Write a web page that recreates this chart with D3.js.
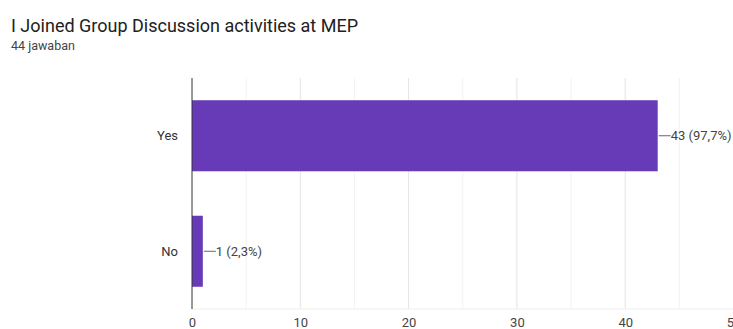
<!DOCTYPE html>
<html>
<head>
<meta charset="utf-8">
<script src="https://cdn.jsdelivr.net/npm/d3@7"></script>
<style>
body{margin:0;background:#fff;font-family:Roboto,Arial,sans-serif;}
</style>
</head>
<body>
<div id="chart"></div>
<script>
// data
const categories = ["Yes", "No"];
const counts = [43, 1];
const percents = ["97,7%", "2,3%"];
const xTicks = [0, 10, 20, 30, 40, 50];
const title = "I Joined Group Discussion activities at MEP";
const subtitle = "44 jawaban";

const w = 733, h = 329;
const plotLeft = 192, plotRight = 192 + 50 * 10.83, plotTop = 78, plotBottom = 309;

const svg = d3.select("#chart").append("svg")
  .attr("width", w).attr("height", h);

svg.append("text").attr("x", 11).attr("y", 32)
  .style("font-size", "18px").attr("fill", "#212121").text(title);
svg.append("text").attr("x", 11).attr("y", 50)
  .style("font-size", "12.5px").attr("fill", "#444").text(subtitle);

const x = d3.scaleLinear().domain([0, 50]).range([plotLeft, plotRight]);
const y = d3.scaleBand().domain(categories).range([plotTop, plotBottom])
  .paddingInner(0.385).paddingOuter(0.1925);

// grid lines (minor every 5, major every 10)
svg.selectAll(".minor").data(d3.range(5, 50, 10)).enter().append("line")
  .attr("x1", d => x(d)).attr("x2", d => x(d))
  .attr("y1", plotTop).attr("y2", plotBottom)
  .attr("stroke", "#f3f3f3");
svg.selectAll(".major").data(xTicks.slice(1)).enter().append("line")
  .attr("x1", d => x(d)).attr("x2", d => x(d))
  .attr("y1", plotTop).attr("y2", plotBottom)
  .attr("stroke", "#e4e4e4");
svg.append("line").attr("x1", plotLeft).attr("x2", w)
  .attr("y1", plotBottom).attr("y2", plotBottom).attr("stroke", "#eeeeee");

// bars
svg.selectAll("rect.bar").data(counts).enter().append("rect")
  .attr("class", "bar")
  .attr("x", x(0))
  .attr("y", (d, i) => y(categories[i]))
  .attr("width", d => x(d) - x(0))
  .attr("height", y.bandwidth())
  .attr("fill", "#673ab7");

// vertical axis line
svg.append("line").attr("x1", plotLeft).attr("x2", plotLeft)
  .attr("y1", plotTop).attr("y2", plotBottom).attr("stroke", "#333");

// x axis
const xAxis = svg.append("g").attr("transform", "translate(0," + plotBottom + ")")
  .call(d3.axisBottom(x).tickValues(xTicks).tickSize(0).tickPadding(9));
xAxis.select(".domain").remove();
xAxis.selectAll("text").style("font-size", "13px").attr("fill", "#444")
  .style("font-family", "Roboto,Arial,sans-serif");

// y axis labels
svg.selectAll(".cat").data(categories).enter().append("text")
  .attr("x", plotLeft - 14)
  .attr("y", d => y(d) + y.bandwidth() / 2)
  .attr("dy", "0.35em").attr("text-anchor", "end")
  .style("font-size", "13px").attr("fill", "#333").text(d => d);

// value labels with leader lines
svg.selectAll(".lead").data(counts).enter().append("line")
  .attr("x1", d => x(d) + 1).attr("x2", d => x(d) + 13)
  .attr("y1", (d, i) => y(categories[i]) + y.bandwidth() / 2)
  .attr("y2", (d, i) => y(categories[i]) + y.bandwidth() / 2)
  .attr("stroke", "#666");
svg.selectAll(".val").data(counts).enter().append("text")
  .attr("x", d => x(d) + 13)
  .attr("y", (d, i) => y(categories[i]) + y.bandwidth() / 2)
  .attr("dy", "0.35em")
  .style("font-size", "13px").attr("fill", "#444")
  .text((d, i) => d + " (" + percents[i] + ")");
</script>
</body>
</html>
